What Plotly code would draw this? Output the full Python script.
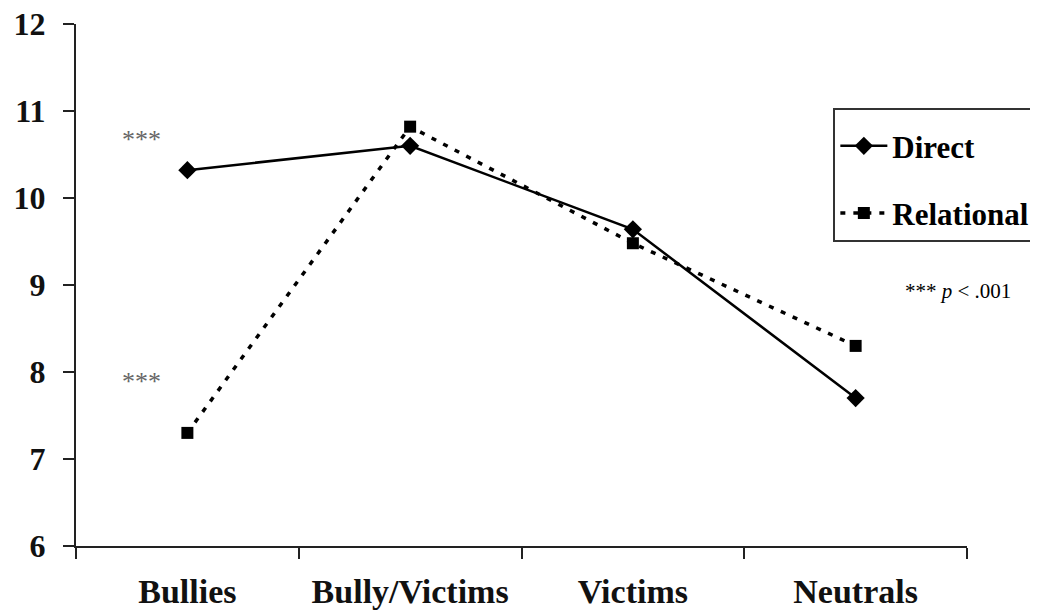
import plotly.graph_objects as go

categories = ["Bullies", "Bully/Victims", "Victims", "Neutrals"]
direct = [10.32, 10.60, 9.64, 7.70]
relational = [7.30, 10.82, 9.48, 8.30]
y_ticks = [6, 7, 8, 9, 10, 11, 12]

FONT = "Liberation Serif, Times New Roman, serif"

fig = go.Figure()
fig.add_trace(go.Scatter(
    x=categories, y=direct, name="<b>Direct</b>", mode="lines+markers",
    line=dict(color="black", width=2.5, dash="solid"),
    marker=dict(symbol="diamond", size=14, color="black"),
    legendgroup="a",
))
fig.add_trace(go.Scatter(
    x=categories, y=relational, name="<b>Relational</b>    ", mode="lines+markers",
    line=dict(color="black", width=3.5, dash="5px,8px"),
    marker=dict(symbol="square", size=12, color="black"),
    legendgroup="b",
))

fig.update_layout(
    width=1030, height=605,
    paper_bgcolor="white", plot_bgcolor="white",
    margin=dict(l=68, r=71, t=16, b=67, autoexpand=False),
    font=dict(family=FONT, color="black"),
    showlegend=True,
    legend=dict(
        x=0.85, y=0.839, xanchor="left", yanchor="top",
        bordercolor="#333", borderwidth=2, bgcolor="white",
        font=dict(family=FONT, size=31, color="black"),
        title=dict(text=" ", font=dict(size=7)),
        tracegroupgap=24, traceorder="grouped",
        itemwidth=47,
    ),
    xaxis=dict(
        type="category", range=[-0.5, 3.5],
        tickson="boundaries", ticks="outside", ticklen=11, tickwidth=2,
        tickcolor="#222",
        showline=True, linecolor="#222", linewidth=2,
        showgrid=False, zeroline=False,
        tickfont=dict(family=FONT, size=34, color="#111"),
        ticklabelstandoff=14,
        ticklabeloverflow="allow",
        tickvals=categories,
        ticktext=["<b>" + c + "</b>" for c in categories],
    ),
    yaxis=dict(
        range=[6, 12], tickvals=y_ticks,
        ticktext=["<b>%d</b>" % v for v in y_ticks],
        ticks="outside", ticklen=11, tickwidth=2, tickcolor="#222",
        showline=True, linecolor="#222", linewidth=2,
        showgrid=False, zeroline=False,
        tickfont=dict(family=FONT, size=32, color="#111"),
        ticklabelstandoff=11,
        ticklabeloverflow="allow",
    ),
)

ann_font = dict(family=FONT, size=26, color="#666")
fig.add_annotation(x=0.049, y=10.67, xref="paper", yref="y", text="***",
                   showarrow=False, font=ann_font, xanchor="left")
fig.add_annotation(x=0.049, y=7.89, xref="paper", yref="y", text="***",
                   showarrow=False, font=ann_font, xanchor="left")
fig.add_annotation(x=0.99, y=8.93, xref="paper", yref="y",
                   text="*** <i>p</i> < .001", showarrow=False,
                   font=dict(family=FONT, size=21, color="black"), xanchor="center")

fig.write_html("out.html")
